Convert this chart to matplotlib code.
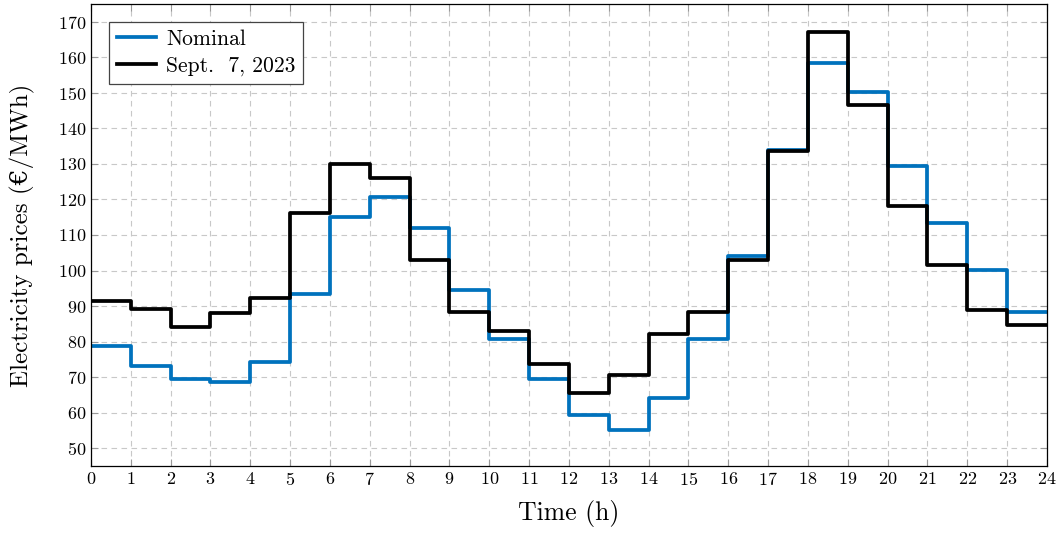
import matplotlib
matplotlib.use("Agg")
import matplotlib.pyplot as plt
import numpy as np

# LaTeX-like look
plt.rcParams['font.family'] = ['cmr10', 'DejaVu Serif']
plt.rcParams['mathtext.fontset'] = 'cm'
plt.rcParams['axes.formatter.use_mathtext'] = True

hours = np.arange(25)
nominal = [78.9, 73.0, 69.6, 68.6, 74.4, 93.5, 115.1, 120.7, 112.0, 94.6, 80.6, 69.6,
           59.3, 55.1, 64.0, 80.6, 104.1, 133.8, 158.5, 150.1, 129.4, 113.4, 100.2, 88.4]
sept7 = [91.5, 89.3, 84.2, 88.1, 92.3, 116.2, 129.9, 126.0, 103.0, 88.4, 83.1, 73.8,
         65.4, 70.5, 82.2, 88.4, 103.0, 133.6, 167.2, 146.5, 118.1, 101.6, 89.0, 84.8]

fig = plt.figure(figsize=(10.64, 5.36), dpi=100)
ax = fig.add_axes([0.0855, 0.1306, 0.8985, 0.862])

# repeat last value so the last step reaches hour 24
ax.step(hours, nominal + nominal[-1:], where='post', color='#0072BD', linewidth=2.7, label='Nominal')
ax.step(hours, sept7 + sept7[-1:], where='post', color='black', linewidth=2.7, label='Sept.  7, 2023')

ax.set_xlim(0, 24)
ax.set_ylim(45, 175)
ax.set_xticks(range(0, 25))
ax.set_yticks(range(50, 171, 10))
ax.grid(True, linestyle=(0, (5, 4)), color='#c8c8c8', linewidth=0.8)
ax.tick_params(direction='in', top=True, right=True, color='#999999', labelsize=13, length=5)
for s in ax.spines.values():
    s.set_linewidth(0.9)

ax.set_xlabel('Time (h)', fontsize=18.5, labelpad=9)
ax.set_ylabel('Electricity prices (€/MWh)', fontsize=18, labelpad=16)

leg = ax.legend(loc='upper left', fontsize=15.5, fancybox=False, framealpha=1,
                edgecolor='#444444', handlelength=1.8, handletextpad=0.5, borderpad=0.35,
                labelspacing=0.35, bbox_to_anchor=(0.008, 0.985))
leg.get_frame().set_linewidth(0.9)

fig.savefig('out.png', dpi=100)
